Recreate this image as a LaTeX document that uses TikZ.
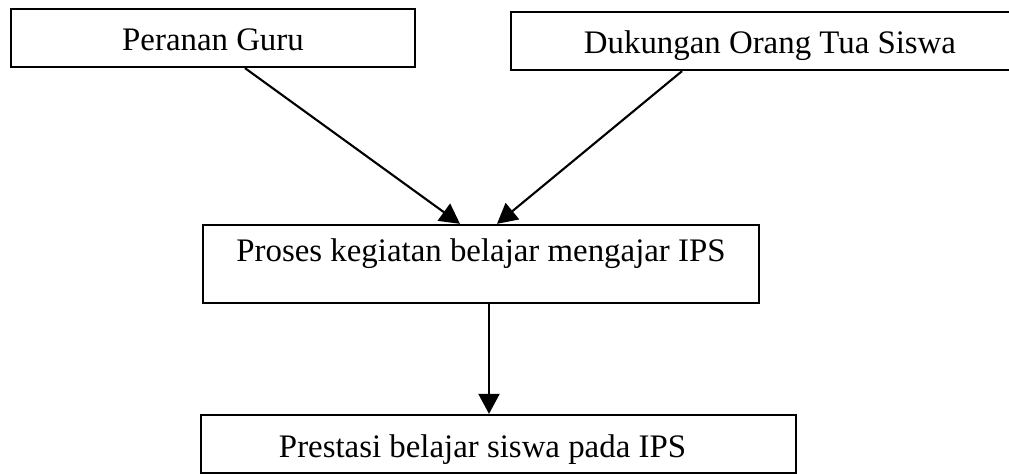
\documentclass[tikz,border=0pt]{standalone}
\usepackage{fontspec}
\setmainfont{Liberation Serif}
\usetikzlibrary{arrows.meta, positioning, calc}

\begin{document}
\begin{tikzpicture}[
        factor/.style={rectangle,draw=black,line width=1.3pt,
                       font=\fontsize{18.7}{22}\selectfont,
                       inner ysep=0pt,text height=0.84cm,text depth=0.32cm},
        link/.style={-{Triangle[length=0.4cm,width=0.42cm]},line width=1.2pt}
      ]
        \useasboundingbox (0,0) rectangle (20.18,-9.48);
        \node[factor,minimum width=8.08cm] (guru) at (4.26,-0.76) {Peranan Guru};
        \node[factor,minimum width=10.36cm] (ortu) at (15.40,-0.82) {Dukungan Orang Tua Siswa};
        \node[factor,minimum width=11.12cm,text height=0.74cm,text depth=0.82cm]
          (proses) at (9.62,-5.28) {Proses kegiatan belajar mengajar IPS};
        \node[factor,minimum width=11.9cm] (prestasi) at (9.97,-8.88)
          {\hspace*{-0.64cm}Prestasi belajar siswa pada IPS};
        \draw[link] ([xshift=0.64cm]guru.south) -- ([xshift=-0.42cm]proses.north);
        \draw[link] ([xshift=-1.76cm]ortu.south) -- ([xshift=0.32cm]proses.north);
        \draw[link] ([xshift=0.16cm]proses.south) -- ([xshift=0.16cm]proses.south |- prestasi.north);
      \end{tikzpicture}
\end{document}
